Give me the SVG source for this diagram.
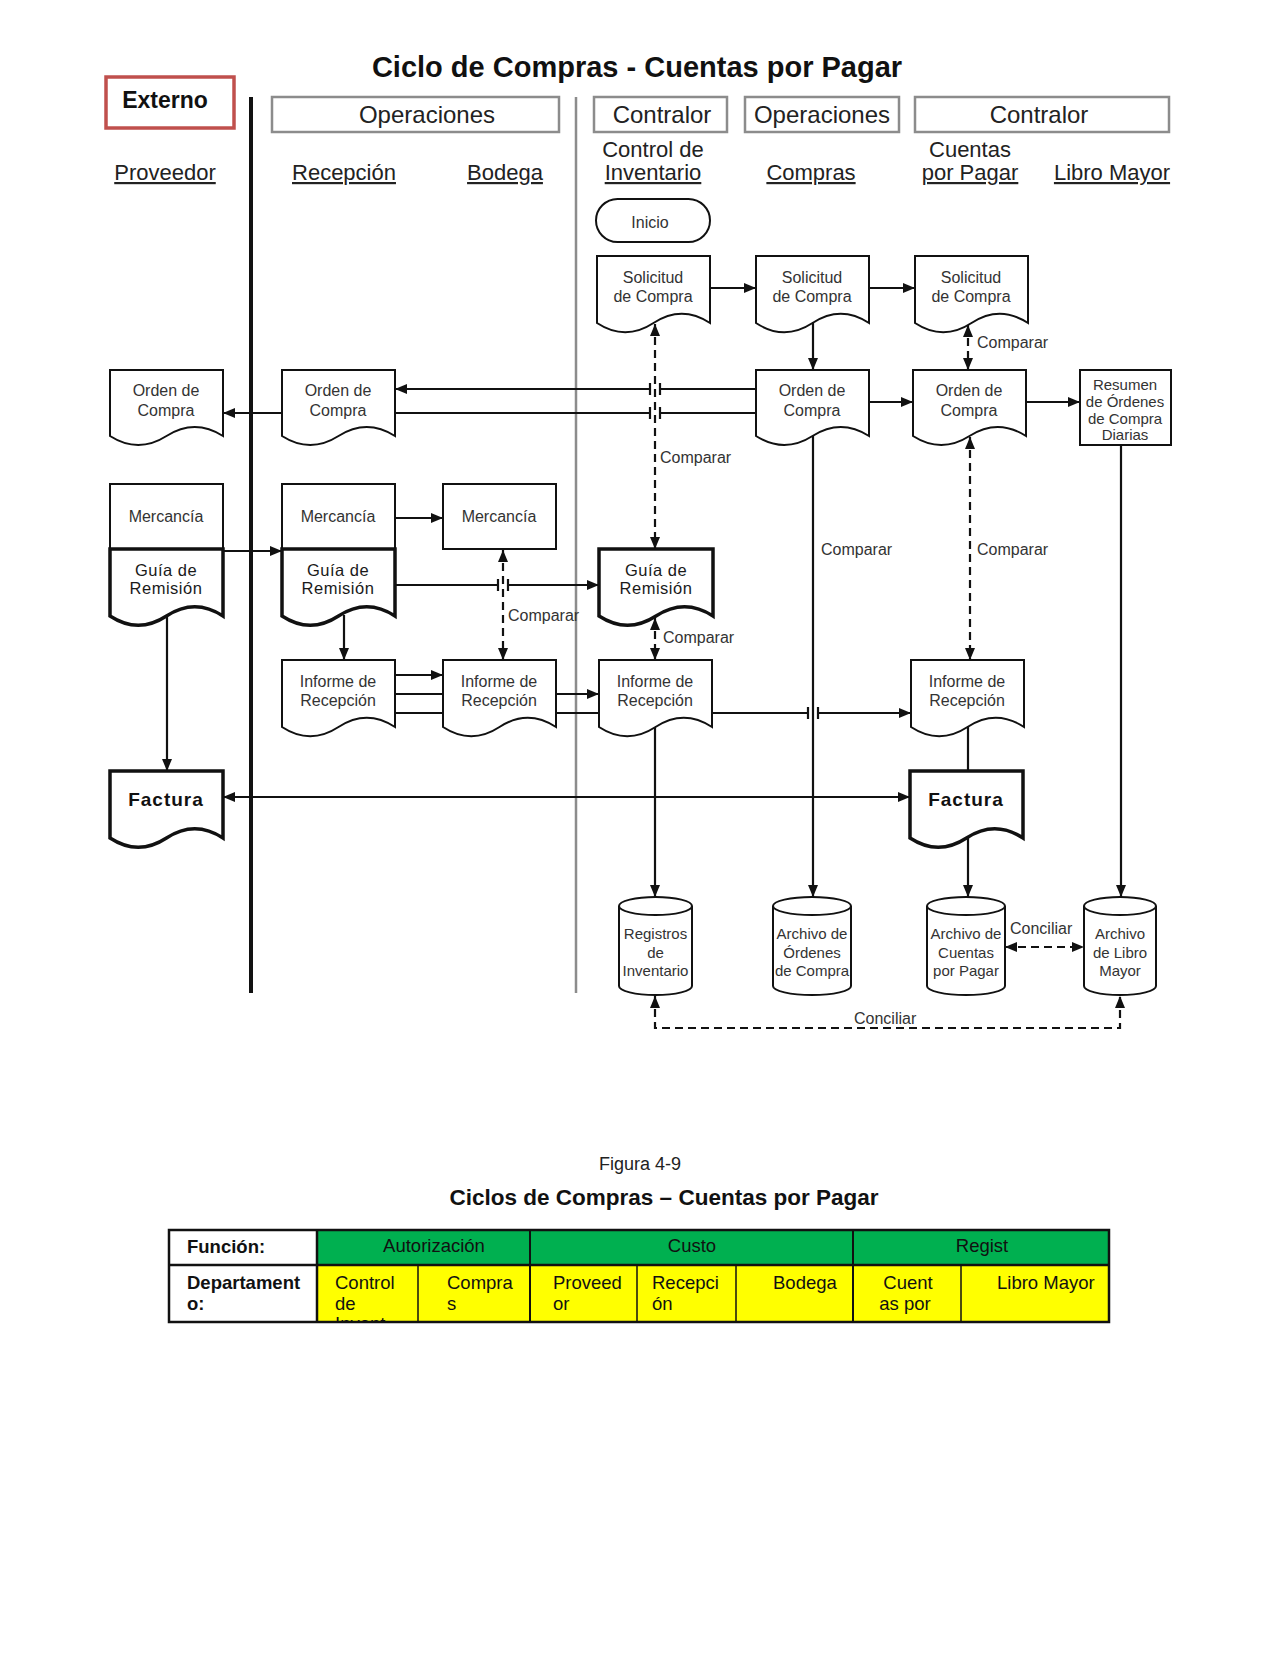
<svg xmlns="http://www.w3.org/2000/svg" width="1280" height="1656" viewBox="0 0 1280 1656">
<style>
text { font-family: "Liberation Sans", Arial, sans-serif; }
.t { fill: #333; font-size: 16px; text-anchor: middle; }
.tb { fill: #111; font-size: 19px; font-weight: bold; text-anchor: middle; letter-spacing: 1px; }
.tg { fill: #1a1a1a; font-size: 16.5px; text-anchor: middle; letter-spacing: 0.5px; }
.tc { fill: #333; font-size: 15px; text-anchor: middle; }
.cmp { fill: #333; font-size: 16px; }
.doc { fill: #fff; stroke: #111; stroke-width: 2; }
.docb { fill: #fff; stroke: #111; stroke-width: 3.5; }
.ln { fill: none; stroke: #111; stroke-width: 2.2; }
.dash { stroke-dasharray: 8 5; }
.hbox { fill: #fff; stroke: #8c8c8c; stroke-width: 2.5; }
.ht { fill: #222; font-size: 24px; text-anchor: middle; }
.col { fill: #222; font-size: 22px; text-anchor: middle; }
.u { text-decoration: underline; }
.tt { fill: #111; font-size: 18.5px; }
.ttb { fill: #111; font-size: 18.5px; font-weight: bold; }
.grid { stroke: #111; fill: none; }
</style>
<defs>
<marker id="arr" viewBox="0 0 12 10" refX="12" refY="5" markerWidth="12" markerHeight="10" markerUnits="userSpaceOnUse" orient="auto-start-reverse">
<path d="M0,0 L12,5 L0,10 Z" fill="#111"/>
</marker>
<clipPath id="clipR2"><rect x="317" y="1265" width="101" height="56"/></clipPath>
</defs>

<text x="637" y="77" font-size="29" font-weight="bold" fill="#111" text-anchor="middle">Ciclo de Compras - Cuentas por Pagar</text>

<g id="externo">
<rect x="106" y="77" width="128" height="51" fill="#fff" stroke="#c0504d" stroke-width="3.5"/>
<text x="165" y="108" font-size="23" font-weight="bold" fill="#111" text-anchor="middle">Externo</text>
</g>

<g id="headers">
<rect class="hbox" x="272" y="97" width="287" height="35"/>
<text class="ht" x="427" y="123">Operaciones</text>
<rect class="hbox" x="594" y="97" width="133" height="35"/>
<text class="ht" x="662" y="123">Contralor</text>
<rect class="hbox" x="745" y="97" width="154" height="35"/>
<text class="ht" x="822" y="123">Operaciones</text>
<rect class="hbox" x="915" y="97" width="254" height="35"/>
<text class="ht" x="1039" y="123">Contralor</text>
</g>

<g id="columns">
<text class="col u" x="165" y="180">Proveedor</text>
<text class="col u" x="344" y="180">Recepción</text>
<text class="col u" x="505" y="180">Bodega</text>
<text class="col" x="653" y="157">Control de</text>
<text class="col u" x="653" y="180">Inventario</text>
<text class="col u" x="811" y="180">Compras</text>
<text class="col" x="970" y="157">Cuentas</text>
<text class="col u" x="970" y="180">por Pagar</text>
<text class="col u" x="1112" y="180">Libro Mayor</text>
</g>

<g id="lanes">
<line x1="251" y1="97" x2="251" y2="993" stroke="#111" stroke-width="4"/>
<line x1="576" y1="97" x2="576" y2="993" stroke="#8c8c8c" stroke-width="2.5"/>
</g>

<g id="connectors">
<path class="ln" d="M710,288 H756" marker-end="url(#arr)"/>
<path class="ln" d="M869,288 H915" marker-end="url(#arr)"/>
<path class="ln" d="M813,323 V370" marker-end="url(#arr)"/>
<path class="ln dash" d="M968,325 V370" marker-start="url(#arr)" marker-end="url(#arr)"/>
<path class="ln" d="M756,389 H660 M650,389 H395" marker-end="url(#arr)"/>
<path class="ln" d="M660,383 V395 M650,383 V395"/>
<path class="ln" d="M756,413 H660 M650,413 H223" marker-end="url(#arr)"/>
<path class="ln" d="M660,407 V419 M650,407 V419"/>
<path class="ln" d="M869,402 H913" marker-end="url(#arr)"/>
<path class="ln" d="M1026,402 H1080" marker-end="url(#arr)"/>
<path class="ln dash" d="M655,324 V549" marker-start="url(#arr)" marker-end="url(#arr)"/>
<path class="ln" d="M395,518 H443" marker-end="url(#arr)"/>
<path class="ln" d="M223,551 H282" marker-end="url(#arr)"/>
<path class="ln" d="M395,585 H498 M508,585 H599" marker-end="url(#arr)"/>
<path class="ln" d="M498,579 V591 M508,579 V591"/>
<path class="ln dash" d="M503,550 V660" marker-start="url(#arr)" marker-end="url(#arr)"/>
<path class="ln" d="M344,615 V660" marker-end="url(#arr)"/>
<path class="ln dash" d="M655,618 V660" marker-start="url(#arr)" marker-end="url(#arr)"/>
<path class="ln" d="M167,617 V771" marker-end="url(#arr)"/>
<path class="ln" d="M395,675 H443" marker-end="url(#arr)"/>
<path class="ln" d="M395,694 H599" marker-end="url(#arr)"/>
<path class="ln" d="M395,713 H808 M818,713 H911" marker-end="url(#arr)"/>
<path class="ln" d="M808,707 V719 M818,707 V719"/>
<path class="ln" d="M813,436 V897" marker-end="url(#arr)"/>
<path class="ln dash" d="M970,437 V660" marker-start="url(#arr)" marker-end="url(#arr)"/>
<path class="ln" d="M1121,445 V897" marker-end="url(#arr)"/>
<path class="ln" d="M655,727 V897" marker-end="url(#arr)"/>
<path class="ln" d="M968,727 V771"/>
<path class="ln" d="M968,838 V897" marker-end="url(#arr)"/>
<path class="ln" d="M223,797 H910" marker-start="url(#arr)" marker-end="url(#arr)"/>
<path class="ln dash" d="M1005,947 H1084" marker-start="url(#arr)" marker-end="url(#arr)"/>
<path class="ln dash" d="M655,996 V1028 H1120 V996" marker-start="url(#arr)" marker-end="url(#arr)"/>
<text class="cmp" x="977" y="348">Comparar</text>
<text class="cmp" x="660" y="463">Comparar</text>
<text class="cmp" x="821" y="555">Comparar</text>
<text class="cmp" x="977" y="555">Comparar</text>
<text class="cmp" x="508" y="621">Comparar</text>
<text class="cmp" x="663" y="643">Comparar</text>
<text class="cmp" x="1010" y="934">Conciliar</text>
<text class="cmp" x="854" y="1024">Conciliar</text>
</g>

<g id="inicio">
<rect x="596" y="199" width="114" height="43" rx="21.5" fill="#fff" stroke="#111" stroke-width="2"/>
<text class="t" x="650" y="228" font-size="19">Inicio</text>
</g>

<g id="solicitud-control">
<path class="doc" d="M597,256 H710 V323 Q681.75,304.5 653.5,323 T597,323 Z"/>
<text class="t" x="653" y="283">Solicitud</text><text class="t" x="653" y="302">de Compra</text>
</g>
<g id="solicitud-compras">
<path class="doc" d="M756,256 H869 V323 Q840.75,304.5 812.5,323 T756,323 Z"/>
<text class="t" x="812" y="283">Solicitud</text><text class="t" x="812" y="302">de Compra</text>
</g>
<g id="solicitud-cxp">
<path class="doc" d="M915,256 H1028 V323 Q999.75,304.5 971.5,323 T915,323 Z"/>
<text class="t" x="971" y="283">Solicitud</text><text class="t" x="971" y="302">de Compra</text>
</g>

<g id="orden-proveedor">
<path class="doc" d="M110,370 H223 V436 Q194.75,418 166.5,436 T110,436 Z"/>
<text class="t" x="166" y="396">Orden de</text><text class="t" x="166" y="416">Compra</text>
</g>
<g id="orden-recepcion">
<path class="doc" d="M282,370 H395 V436 Q366.75,418 338.5,436 T282,436 Z"/>
<text class="t" x="338" y="396">Orden de</text><text class="t" x="338" y="416">Compra</text>
</g>
<g id="orden-compras">
<path class="doc" d="M756,370 H869 V436 Q840.75,418 812.5,436 T756,436 Z"/>
<text class="t" x="812" y="396">Orden de</text><text class="t" x="812" y="416">Compra</text>
</g>
<g id="orden-cxp">
<path class="doc" d="M913,370 H1026 V436 Q997.75,418 969.5,436 T913,436 Z"/>
<text class="t" x="969" y="396">Orden de</text><text class="t" x="969" y="416">Compra</text>
</g>
<g id="resumen">
<rect class="doc" x="1080" y="370" width="91" height="75"/>
<text class="tc" x="1125" y="390">Resumen</text>
<text class="tc" x="1125" y="407">de Órdenes</text>
<text class="tc" x="1125" y="424">de Compra</text>
<text class="tc" x="1125" y="440">Diarias</text>
</g>

<g id="mercancia-proveedor">
<rect class="doc" x="110" y="484" width="113" height="65"/>
<text class="t" x="166" y="522">Mercancía</text>
</g>
<g id="guia-proveedor">
<path class="docb" d="M110,549 H223 V616 Q194.75,597.5 166.5,616 T110,616 Z"/>
<text class="tg" x="166" y="576">Guía de</text><text class="tg" x="166" y="594">Remisión</text>
</g>
<g id="mercancia-recepcion">
<rect class="doc" x="282" y="484" width="113" height="65"/>
<text class="t" x="338" y="522">Mercancía</text>
</g>
<g id="guia-recepcion">
<path class="docb" d="M282,549 H395 V616 Q366.75,597.5 338.5,616 T282,616 Z"/>
<text class="tg" x="338" y="576">Guía de</text><text class="tg" x="338" y="594">Remisión</text>
</g>
<g id="mercancia-bodega">
<rect class="doc" x="443" y="484" width="113" height="65"/>
<text class="t" x="499" y="522">Mercancía</text>
</g>
<g id="guia-control">
<path class="docb" d="M599,549 H713 V616 Q684.5,597.5 656,616 T599,616 Z"/>
<text class="tg" x="656" y="576">Guía de</text><text class="tg" x="656" y="594">Remisión</text>
</g>

<g id="informe-recepcion">
<path class="doc" d="M282,660 H395 V727 Q366.75,708.5 338.5,727 T282,727 Z"/>
<text class="t" x="338" y="687">Informe de</text><text class="t" x="338" y="706">Recepción</text>
</g>
<g id="informe-bodega">
<path class="doc" d="M443,660 H556 V727 Q527.75,708.5 499.5,727 T443,727 Z"/>
<text class="t" x="499" y="687">Informe de</text><text class="t" x="499" y="706">Recepción</text>
</g>
<g id="informe-control">
<path class="doc" d="M599,660 H712 V727 Q683.75,708.5 655.5,727 T599,727 Z"/>
<text class="t" x="655" y="687">Informe de</text><text class="t" x="655" y="706">Recepción</text>
</g>
<g id="informe-cxp">
<path class="doc" d="M911,660 H1024 V727 Q995.75,708.5 967.5,727 T911,727 Z"/>
<text class="t" x="967" y="687">Informe de</text><text class="t" x="967" y="706">Recepción</text>
</g>

<g id="factura-proveedor">
<path class="docb" d="M110,771 H223 V838 Q194.75,819.5 166.5,838 T110,838 Z"/>
<text class="tb" x="166" y="806">Factura</text>
</g>
<g id="factura-cxp">
<path class="docb" d="M910,771 H1023 V838 Q994.75,819.5 966.5,838 T910,838 Z"/>
<text class="tb" x="966" y="806">Factura</text>
</g>

<g id="registros-inventario">
<path class="doc" d="M619,906 V986 A36.5,9 0 0 0 692,986 V906 A36.5,9 0 0 0 619,906 Z"/>
<path class="doc" fill="none" d="M619,906 A36.5,9 0 0 0 692,906"/>
<text class="tc" x="655.5" y="939" font-size="15.5">Registros</text><text class="tc" x="655.5" y="958" font-size="15.5">de</text><text class="tc" x="655.5" y="976" font-size="15.5">Inventario</text>
</g>
<g id="archivo-ordenes">
<path class="doc" d="M773,906 V986 A39,9 0 0 0 851,986 V906 A39,9 0 0 0 773,906 Z"/>
<path class="doc" fill="none" d="M773,906 A39,9 0 0 0 851,906"/>
<text class="tc" x="812" y="939">Archivo de</text><text class="tc" x="812" y="958">Órdenes</text><text class="tc" x="812" y="976">de Compra</text>
</g>
<g id="archivo-cxp">
<path class="doc" d="M927,906 V986 A39,9 0 0 0 1005,986 V906 A39,9 0 0 0 927,906 Z"/>
<path class="doc" fill="none" d="M927,906 A39,9 0 0 0 1005,906"/>
<text class="tc" x="966" y="939" font-size="16">Archivo de</text><text class="tc" x="966" y="958" font-size="16">Cuentas</text><text class="tc" x="966" y="976" font-size="16">por Pagar</text>
</g>
<g id="archivo-libro-mayor">
<path class="doc" d="M1084,906 V986 A36,9 0 0 0 1156,986 V906 A36,9 0 0 0 1084,906 Z"/>
<path class="doc" fill="none" d="M1084,906 A36,9 0 0 0 1156,906"/>
<text class="tc" x="1120" y="939" font-size="16">Archivo</text><text class="tc" x="1120" y="958" font-size="16">de Libro</text><text class="tc" x="1120" y="976" font-size="16">Mayor</text>
</g>

<text x="640" y="1170" font-size="18" fill="#222" text-anchor="middle">Figura 4-9</text>
<text x="664" y="1205" font-size="22.5" font-weight="bold" fill="#111" text-anchor="middle">Ciclos de Compras – Cuentas por Pagar</text>

<g id="tabla">
<rect x="169" y="1230" width="148" height="35" fill="#fff"/>
<rect x="317" y="1230" width="792" height="35" fill="#00b050"/>
<rect x="169" y="1265" width="148" height="57" fill="#fff"/>
<rect x="317" y="1265" width="792" height="57" fill="#ffff00"/>
<g class="grid">
<line x1="530" y1="1230" x2="530" y2="1322" stroke-width="2"/>
<line x1="853" y1="1230" x2="853" y2="1322" stroke-width="2"/>
<line x1="418" y1="1265" x2="418" y2="1322" stroke-width="1.5"/>
<line x1="637" y1="1265" x2="637" y2="1322" stroke-width="1.5"/>
<line x1="736" y1="1265" x2="736" y2="1322" stroke-width="1.5"/>
<line x1="961" y1="1265" x2="961" y2="1322" stroke-width="1.5"/>
<line x1="317" y1="1230" x2="317" y2="1322" stroke-width="2.5"/>
<line x1="169" y1="1265" x2="1109" y2="1265" stroke-width="2.5"/>
<rect x="169" y="1230" width="940" height="92" stroke-width="2.5"/>
</g>
<text class="ttb" x="187" y="1253">Función:</text>
<text class="tt" x="434" y="1252" text-anchor="middle">Autorización</text>
<text class="tt" x="692" y="1252" text-anchor="middle">Custo</text>
<text class="tt" x="982" y="1252" text-anchor="middle">Regist</text>
<text class="ttb" x="187" y="1289">Departament</text>
<text class="ttb" x="187" y="1310">o:</text>
<text class="tt" x="335" y="1289">Control</text>
<text class="tt" x="335" y="1310">de</text>
<text class="tt" x="335" y="1330" clip-path="url(#clipR2)">Invent</text>
<text class="tt" x="447" y="1289">Compra</text>
<text class="tt" x="447" y="1310">s</text>
<text class="tt" x="553" y="1289">Proveed</text>
<text class="tt" x="553" y="1310">or</text>
<text class="tt" x="652" y="1289">Recepci</text>
<text class="tt" x="652" y="1310">ón</text>
<text class="tt" x="773" y="1289">Bodega</text>
<text class="tt" x="908" y="1289" text-anchor="middle">Cuent</text>
<text class="tt" x="905" y="1310" text-anchor="middle">as por</text>
<text class="tt" x="997" y="1289">Libro Mayor</text>
</g>
</svg>
